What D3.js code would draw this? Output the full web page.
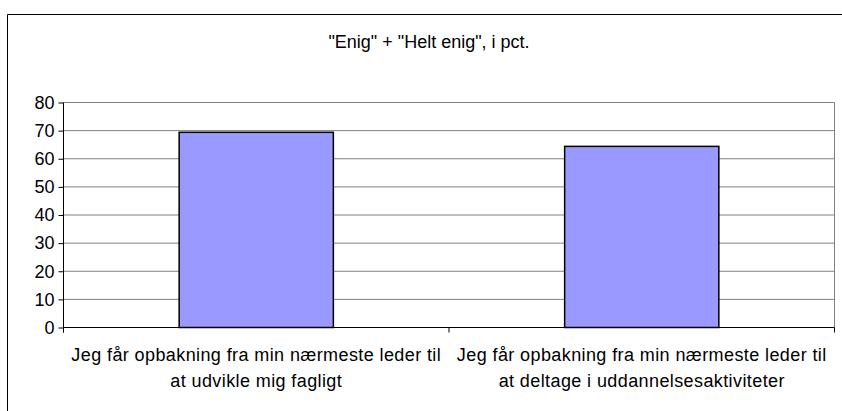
<!DOCTYPE html>
<html>
<head>
<meta charset="utf-8">
<script src="https://cdn.jsdelivr.net/npm/d3@7"></script>
<style>
  body { margin: 0; background: #fff; }
  svg { display: block; font-family: "Liberation Sans", Arial, sans-serif; }
</style>
</head>
<body>
<script>
const titleText = '"Enig" + "Helt enig", i pct.'
const categories = [
  ['Jeg får opbakning fra min nærmeste leder til', 'at udvikle mig fagligt'],
  ['Jeg får opbakning fra min nærmeste leder til', 'at deltage i uddannelsesaktiviteter']
]
const values = [69.4, 64.4]
const yTicks = [0, 10, 20, 30, 40, 50, 60, 70, 80]

const w = 842
const h = 411
const pLeft = 63.5, pRight = 834.5, pTop = 102.5, pBottom = 327.5

const svg = d3.select('body')
  .append('svg')
  .attr('width', w)
  .attr('height', h)

// outer chart frame (right and bottom edges fall outside the window)
svg.append('path')
  .attr('d', `M7.5,${h + 5} V14.5 H${w + 5}`)
  .attr('fill', 'none')
  .attr('stroke', '#000')

svg.append('text')
  .attr('x', 429)
  .attr('y', 48)
  .attr('text-anchor', 'middle')
  .style('font-size', '18px')
  .text(titleText)

const xScale = d3.scaleBand()
  .domain(d3.range(categories.length))
  .range([pLeft, pRight])
  .paddingInner(0)
  .paddingOuter(0)

const yScale = d3.scaleLinear()
  .domain([0, 80])
  .range([pBottom, pTop])

// gridlines
svg.append('g')
  .selectAll('line')
  .data(yTicks.filter(d => d > 0))
  .enter()
  .append('line')
  .attr('x1', pLeft)
  .attr('x2', pRight)
  .attr('y1', d => yScale(d))
  .attr('y2', d => yScale(d))
  .attr('stroke', '#808080')

// plot area right edge
svg.append('line')
  .attr('x1', pRight).attr('x2', pRight)
  .attr('y1', pTop).attr('y2', pBottom)
  .attr('stroke', '#808080')

// bars
const barW = xScale.bandwidth() * 0.4
svg.append('g')
  .selectAll('rect')
  .data(values)
  .enter()
  .append('rect')
  .attr('x', (d, i) => xScale(i) + (xScale.bandwidth() - barW) / 2)
  .attr('y', d => yScale(d))
  .attr('width', barW)
  .attr('height', d => yScale(0) - yScale(d))
  .attr('fill', '#9999ff')
  .attr('stroke', '#000')
  .attr('stroke-width', 1.5)

// y axis
const yAxis = d3.axisLeft(yScale)
  .tickValues(yTicks)
  .tickSize(5)
  .tickPadding(4)

svg.append('g')
  .attr('transform', `translate(${pLeft},0)`)
  .call(yAxis)
  .call(g => g.select('.domain').attr('d', `M0,${pTop}V${pBottom + 5}`))
  .call(g => g.selectAll('text')
    .style('font-size', '18px')
    .style('font-family', '"Liberation Sans", Arial, sans-serif')
    .attr('fill', '#000'))

// x axis with ticks at category boundaries
const boundaries = d3.range(categories.length + 1).map(i => pLeft + i * xScale.step())
svg.append('line')
  .attr('x1', pLeft).attr('x2', pRight)
  .attr('y1', pBottom).attr('y2', pBottom)
  .attr('stroke', '#000')
svg.append('g')
  .selectAll('line')
  .data(boundaries)
  .enter()
  .append('line')
  .attr('x1', d => d).attr('x2', d => d)
  .attr('y1', pBottom).attr('y2', pBottom + 5)
  .attr('stroke', '#000')

// category labels
const labels = svg.append('g')
  .selectAll('text')
  .data(categories)
  .enter()
  .append('text')
  .attr('text-anchor', 'middle')
  .style('font-size', '18px')
  .style('letter-spacing', '0.4px')

labels.selectAll('tspan')
  .data((d, i) => d.map(line => ({ line, i })))
  .enter()
  .append('tspan')
  .attr('x', d => xScale(d.i) + xScale.bandwidth() / 2)
  .attr('y', (d, j) => 361 + j * 25.5)
  .text(d => d.line)
</script>
</body>
</html>
